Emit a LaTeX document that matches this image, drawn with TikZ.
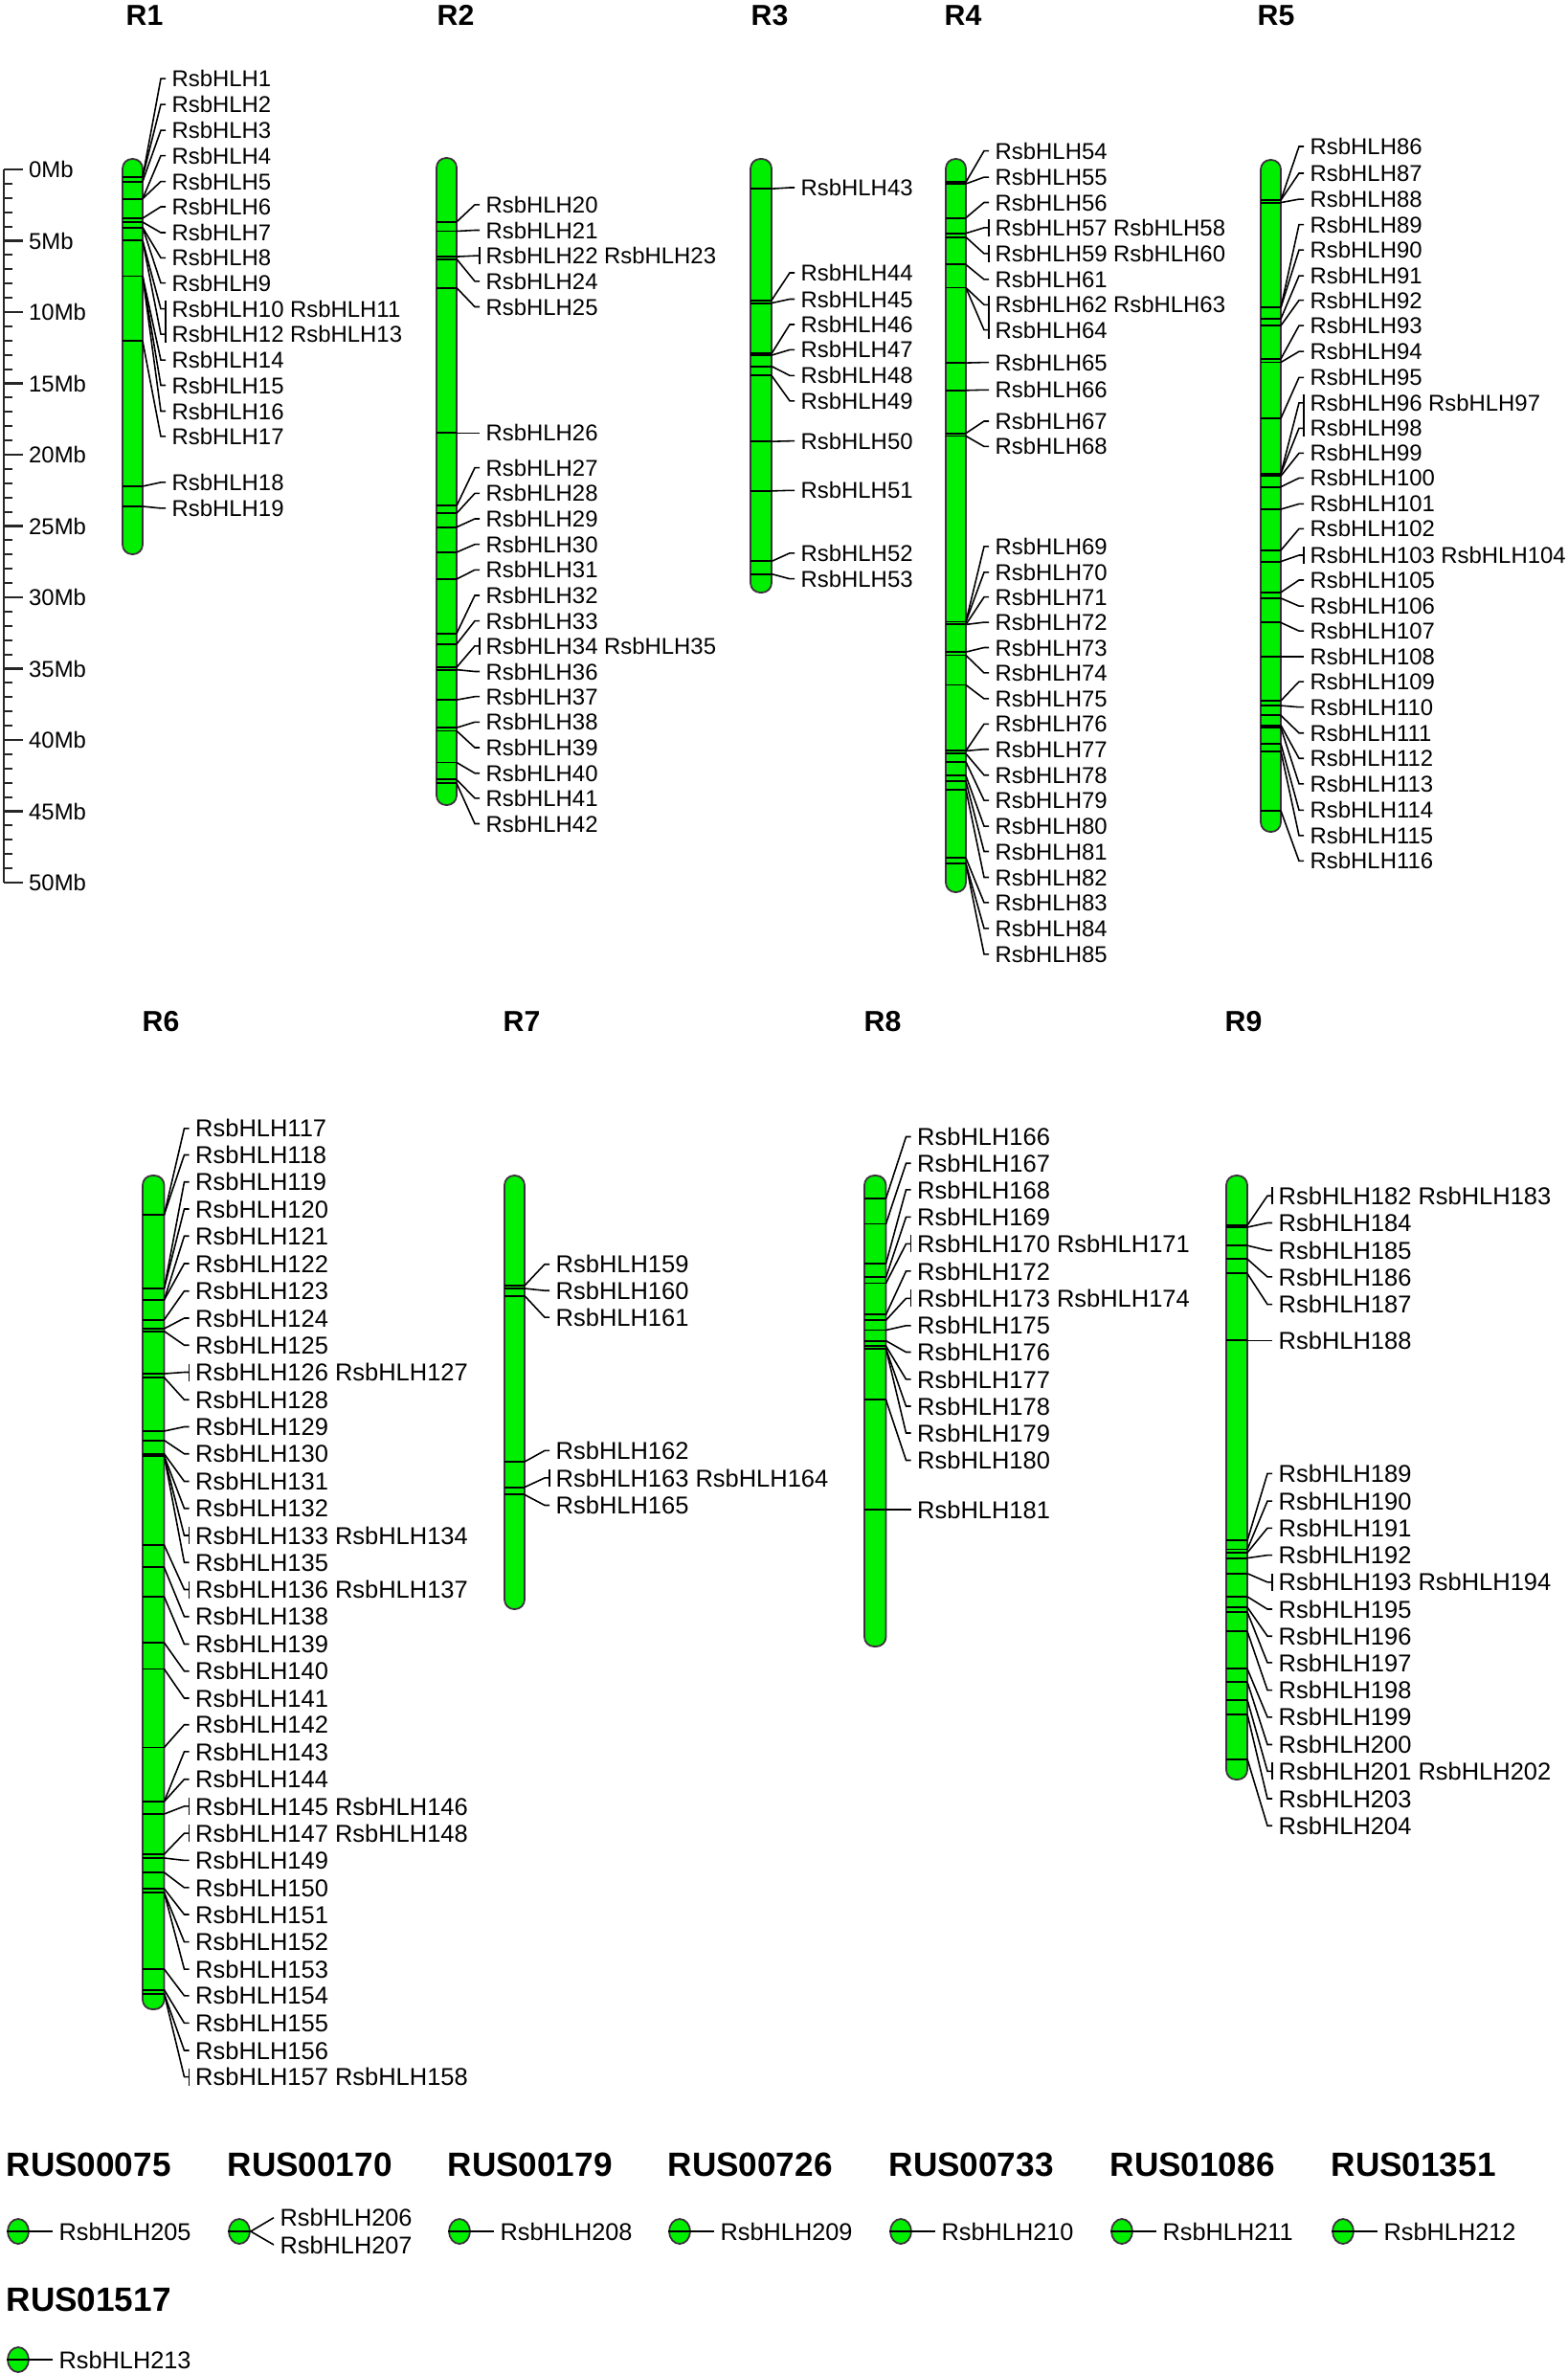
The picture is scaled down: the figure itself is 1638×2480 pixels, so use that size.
\documentclass[tikz,border=0pt]{standalone}
\usepackage{fontspec}
\setmainfont{Liberation Sans}
\usetikzlibrary{shapes.geometric}
\definecolor{chromGreen}{HTML}{00EE00}
\definecolor{chromEdge}{HTML}{3C2F3C}

% one chromosome's genes: prefix, left edge, right edge, list tick/label/text/kind
\newcommand{\genemap}[4]{%
  \foreach \tk/\lb/\tx/\kd [count=\i] in {#4} {
    \draw[band] (#2,\tk) -- (#3,\tk);
    \draw[conn] (#3,\tk) -- (#3+\gd,\lb) -- (#3+\gs,\lb);
    \ifnum\kd=1 \draw[conn] (#3+\gs,\lb-9) -- (#3+\gs,\lb+9); \fi
    \node[gene] (#1g\i) at (#3+\gt,\lb) {\tx};
  }}

\begin{document}
\begin{tikzpicture}[x=0.1mm, y=-0.1mm,
  chrom/.style={fill=chromGreen, draw=chromEdge, line width=0.5pt, rounded corners=1mm},
  band/.style={draw=black, line width=0.55pt},
  conn/.style={draw=black, line width=0.45pt},
  axis/.style={draw=black!85, line width=0.6pt},
  genefont/.style={font=\fontsize{6.8}{8}\selectfont},
  gene/.style={anchor=west, inner sep=0pt, genefont},
  scalelbl/.style={anchor=west, inner sep=0pt, font=\fontsize{6.8}{8}\selectfont},
  chrlbl/.style={anchor=west, inner sep=0pt, font=\fontsize{8.6}{10}\selectfont\bfseries},
  ruslbl/.style={anchor=west, inner sep=0pt, font=\fontsize{10}{12}\selectfont\bfseries},
  blob/.style={ellipse, draw=chromEdge, fill=chromGreen, line width=0.5pt,
               minimum width=2.2mm, minimum height=2.6mm, inner sep=0pt}
]
\useasboundingbox (0,0) rectangle (1638,2480);

% scale bar
\draw[axis] (4,177) -- (4,922);
\foreach \m in {0,...,50}
  \draw[axis] (4,177+\m*14.9) -- ++(9,0);
\foreach \m in {0,5,...,50} {
  \draw[axis] (4,177+\m*14.9) -- ++(20,0);
  \node[scalelbl] (mb\m) at (29.5,177+\m*14.9) {\m Mb};
}

% top row
\begin{scope}
\def\gd{19}\def\gs{24}\def\gt{30}
\node[chrlbl] (R1) at (131,16) {R1};
\node[chrlbl] (R2) at (456,16) {R2};
\node[chrlbl] (R3) at (784,16) {R3};
\node[chrlbl] (R4) at (986,16) {R4};
\node[chrlbl] (R5) at (1313,16) {R5};
\draw[chrom] (128,166) rectangle (149,579);
\draw[chrom] (456,165) rectangle (477,841);
\draw[chrom] (784,166) rectangle (806,619);
\draw[chrom] (988,166) rectangle (1009,932);
\draw[chrom] (1317,167) rectangle (1338,869);

\genemap{R1}{128}{149}{185/82.2/RsbHLH1/0, 185/109.2/RsbHLH2/0,
  189.6/136.2/RsbHLH3/0, 207.6/162.6/RsbHLH4/0, 207.6/189.6/RsbHLH5/0,
  228/216/RsbHLH6/0, 232/243/RsbHLH7/0, 237.6/269.4/RsbHLH8/0,
  237.6/295.7/RsbHLH9/0, 251.4/322.7/RsbHLH10 RsbHLH11/1,
  251.4/349.1/RsbHLH12 RsbHLH13/1, 288.5/376.1/RsbHLH14/0,
  288.5/402.5/RsbHLH15/0, 288.5/429.5/RsbHLH16/0, 356.3/455.9/RsbHLH17/0,
  508/503.9/RsbHLH18/0, 529/530.9/RsbHLH19/0}
\draw[conn] ([xshift=-0.6mm]R1g10.west) -- ([xshift=-0.6mm]R1g11.west);

\genemap{R2}{456}{477}{231.8/213.9/RsbHLH20/0, 241.5/240.5/RsbHLH21/0,
  268.1/267.2/RsbHLH22 RsbHLH23/1, 270.6/293.8/RsbHLH24/0,
  300.6/320.5/RsbHLH25/0, 452.3/452.3/RsbHLH26/0, 528.4/488.7/RsbHLH27/0,
  536.2/515.4/RsbHLH28/0, 550.7/542/RsbHLH29/0, 576.9/568.7/RsbHLH30/0,
  605/595.3/RsbHLH31/0, 661.8/622/RsbHLH32/0, 672.9/648.7/RsbHLH33/0,
  697.1/674.8/RsbHLH34 RsbHLH35/1, 699.6/701.5/RsbHLH36/0,
  731.1/727.7/RsbHLH37/0, 760.2/754.3/RsbHLH38/0, 763.5/781/RsbHLH39/0,
  796.5/807.7/RsbHLH40/0, 814.4/833.8/RsbHLH41/0, 818.3/860.5/RsbHLH42/0}

\genemap{R3}{784}{806}{197.2/196/RsbHLH43/0, 313.7/285/RsbHLH44/0,
  316.6/312.5/RsbHLH45/0, 369.4/339/RsbHLH46/0, 371.1/365.4/RsbHLH47/0,
  382.6/392.3/RsbHLH48/0, 392.3/418.8/RsbHLH49/0, 461.2/460.7/RsbHLH50/0,
  512.9/512.3/RsbHLH51/0, 586.4/577.8/RsbHLH52/0, 599.6/604.7/RsbHLH53/0}

\genemap{R4}{988}{1009}{190.3/157.6/RsbHLH54/0, 192/185.1/RsbHLH55/0,
  227.6/211.5/RsbHLH56/0, 243.7/237.9/RsbHLH57 RsbHLH58/1,
  247.7/264.9/RsbHLH59 RsbHLH60/1, 276.4/291.9/RsbHLH61/0,
  300.5/318.3/RsbHLH62 RsbHLH63/1, 300.5/344.7/RsbHLH64/1,
  379.1/378.6/RsbHLH65/0, 407.8/407.3/RsbHLH66/0, 452.6/440/RsbHLH67/0,
  455.5/466.4/RsbHLH68/0, 649.5/570.9/RsbHLH69/0, 649.5/597.9/RsbHLH70/0,
  652.4/623.7/RsbHLH71/0, 652.4/650.1/RsbHLH72/0, 681.1/676.5/RsbHLH73/0,
  684.5/702.9/RsbHLH74/0, 715.5/729.9/RsbHLH75/0, 784.4/756.3/RsbHLH76/0,
  784.4/782.7/RsbHLH77/0, 787.3/809.7/RsbHLH78/0, 795.9/836.1/RsbHLH79/0,
  810.2/863.1/RsbHLH80/0, 816/889.5/RsbHLH81/0, 824.6/916.5/RsbHLH82/0,
  896.3/942.9/RsbHLH83/0, 902.1/969.8/RsbHLH84/0, 902.1/996.8/RsbHLH85/0}
\draw[conn] ([xshift=-0.6mm]R4g7.west) -- ([xshift=-0.6mm]R4g8.west);

\genemap{R5}{1317}{1338}{209.1/153/RsbHLH86/0, 209.1/181/RsbHLH87/0,
  211.6/208.1/RsbHLH88/0, 321.3/234.6/RsbHLH89/0, 321.3/261.1/RsbHLH90/0,
  333.1/288.2/RsbHLH91/0, 340.2/313.7/RsbHLH92/0, 374.9/340.2/RsbHLH93/0,
  378.5/367.2/RsbHLH94/0, 437.1/394.3/RsbHLH95/0,
  494.8/420.8/RsbHLH96 RsbHLH97/1, 494.8/447.3/RsbHLH98/1,
  497.3/473.4/RsbHLH99/0, 508.6/499.4/RsbHLH100/0, 532/526.4/RsbHLH101/0,
  574.9/552.4/RsbHLH102/0, 586.6/580/RsbHLH103 RsbHLH104/1,
  618.8/606/RsbHLH105/0, 624.9/633.1/RsbHLH106/0, 650.4/659.1/RsbHLH107/0,
  686.1/686.1/RsbHLH108/0, 732/712.1/RsbHLH109/0, 737.1/738.7/RsbHLH110/0,
  747.3/765.7/RsbHLH111/0, 757.6/792.2/RsbHLH112/0, 760.1/818.8/RsbHLH113/0,
  776.9/846.3/RsbHLH114/0, 784.6/872.9/RsbHLH115/0, 846.8/899.4/RsbHLH116/0}
\draw[conn] ([xshift=-0.6mm]R5g11.west) -- ([xshift=-0.6mm]R5g12.west);
\end{scope}

% bottom row
\begin{scope}[genefont/.style={font=\fontsize{7.25}{8}\selectfont}]
\def\gd{21}\def\gs{26}\def\gt{32}
\node[chrlbl] (R6) at (148,1067) {R6};
\node[chrlbl] (R7) at (525,1067) {R7};
\node[chrlbl] (R8) at (902,1067) {R8};
\node[chrlbl] (R9) at (1279,1067) {R9};
\draw[chrom] (149,1228) rectangle (171.5,2099);
\draw[chrom] (527,1228) rectangle (548,1681);
\draw[chrom] (903,1228) rectangle (925.5,1720);
\draw[chrom] (1281,1228) rectangle (1303,1859);

\genemap{R6}{149}{171.5}{1269/1178.8/RsbHLH117/0, 1269/1206.5/RsbHLH118/0,
  1346/1234.7/RsbHLH119/0, 1346/1263/RsbHLH120/0, 1358/1291.2/RsbHLH121/0,
  1358/1320/RsbHLH122/0, 1378.6/1348.7/RsbHLH123/0, 1388/1377/RsbHLH124/0,
  1390.6/1405.2/RsbHLH125/0, 1435/1433.5/RsbHLH126 RsbHLH127/1,
  1439/1462.2/RsbHLH128/0, 1495/1490.5/RsbHLH129/0, 1504.6/1518.7/RsbHLH130/0,
  1518.7/1547.5/RsbHLH131/0, 1521/1575.7/RsbHLH132/0,
  1521/1604/RsbHLH133 RsbHLH134/1, 1521/1632.2/RsbHLH135/0,
  1614/1660.5/RsbHLH136 RsbHLH137/1, 1637.4/1688.7/RsbHLH138/0,
  1668/1717.5/RsbHLH139/0, 1716/1745.7/RsbHLH140/0, 1743.5/1774/RsbHLH141/0,
  1825.5/1801.7/RsbHLH142/0, 1882/1829.9/RsbHLH143/0, 1882/1858.7/RsbHLH144/0,
  1895/1886.9/RsbHLH145 RsbHLH146/1, 1937/1915.1/RsbHLH147 RsbHLH148/1,
  1941/1943.4/RsbHLH149/0, 1956/1971.9/RsbHLH150/0, 1973/2000/RsbHLH151/0,
  1977/2028.6/RsbHLH152/0, 1977/2057.1/RsbHLH153/0, 2057/2084.8/RsbHLH154/0,
  2078.6/2113.4/RsbHLH155/0, 2082.6/2142/RsbHLH156/0,
  2082.6/2169.6/RsbHLH157 RsbHLH158/1}

\genemap{R7}{527}{548}{1343/1320.7/RsbHLH159/0, 1346/1348.2/RsbHLH160/0,
  1353.6/1376.1/RsbHLH161/0, 1527/1515.4/RsbHLH162/0,
  1553.6/1543.9/RsbHLH163 RsbHLH164/1, 1561.4/1572.5/RsbHLH165/0}

\genemap{R8}{903}{925.5}{1252/1187.5/RsbHLH166/0, 1278.5/1215.2/RsbHLH167/0,
  1320/1242.9/RsbHLH168/0, 1334.2/1271.3/RsbHLH169/0,
  1340.5/1299.4/RsbHLH170 RsbHLH171/1, 1373.3/1327.9/RsbHLH172/0,
  1379.2/1356.3/RsbHLH173 RsbHLH174/1, 1389.5/1384.8/RsbHLH175/0,
  1400.6/1412.5/RsbHLH176/0, 1406.1/1440.9/RsbHLH177/0,
  1408.9/1469/RsbHLH178/0, 1408.9/1497/RsbHLH179/0,
  1462.3/1525.5/RsbHLH180/0, 1576.9/1576.9/RsbHLH181/0}

\genemap{R9}{1281}{1303}{1280/1249.2/RsbHLH182 RsbHLH183/1,
  1282/1277.5/RsbHLH184/0, 1301.1/1306.2/RsbHLH185/0, 1315.2/1333.9/RsbHLH186/0,
  1330.4/1362.6/RsbHLH187/0, 1400.4/1400.4/RsbHLH188/0,
  1609.4/1539.4/RsbHLH189/0, 1618.5/1568.1/RsbHLH190/0, 1622/1596.3/RsbHLH191/0,
  1627.6/1624.6/RsbHLH192/0, 1643.7/1652.8/RsbHLH193 RsbHLH194/1,
  1667.9/1681/RsbHLH195/0, 1679/1709.2/RsbHLH196/0, 1684/1736.9/RsbHLH197/0,
  1704.2/1765.6/RsbHLH198/0, 1743.4/1793.8/RsbHLH199/0, 1757/1822.5/RsbHLH200/0,
  1775.7/1850.3/RsbHLH201 RsbHLH202/1, 1790.8/1879/RsbHLH203/0,
  1837.6/1907.2/RsbHLH204/0}
\end{scope}

% unplaced scaffolds
\foreach \nm/\gn/\hx/\hy/\cy in {RUS00075/205/6/2261/2331, RUS00179/208/467/2261/2331,
    RUS00726/209/697/2261/2331, RUS00733/210/928/2261/2331,
    RUS01086/211/1159/2261/2331, RUS01351/212/1390/2261/2331,
    RUS01517/213/6/2402/2465} {
  \node[ruslbl] (\nm) at (\hx,\hy) {\nm};
  \node[blob] (c\gn) at (\hx+13,\cy) {};
  \draw[conn] (c\gn.west) -- (c\gn.east);
  \node[gene, font=\fontsize{7.2}{8}\selectfont] (g\gn) at (\hx+55,\cy) {RsbHLH\gn};
  \draw[conn] (c\gn.east) -- ([xshift=-0.6mm]g\gn.west);
}
\node[ruslbl] (RUS00170) at (237,2261) {RUS00170};
\node[blob] (c206) at (250,2331) {};
\draw[conn] (c206.west) -- (c206.east);
\node[gene, font=\fontsize{7.2}{8}\selectfont] (g206) at (292,2316.7) {RsbHLH206};
\node[gene, font=\fontsize{7.2}{8}\selectfont] (g207) at (292,2345) {RsbHLH207};
\draw[conn] (c206.east) -- ([xshift=-0.6mm]g206.west);
\draw[conn] (c206.east) -- ([xshift=-0.6mm]g207.west);
\end{tikzpicture}
\end{document}
